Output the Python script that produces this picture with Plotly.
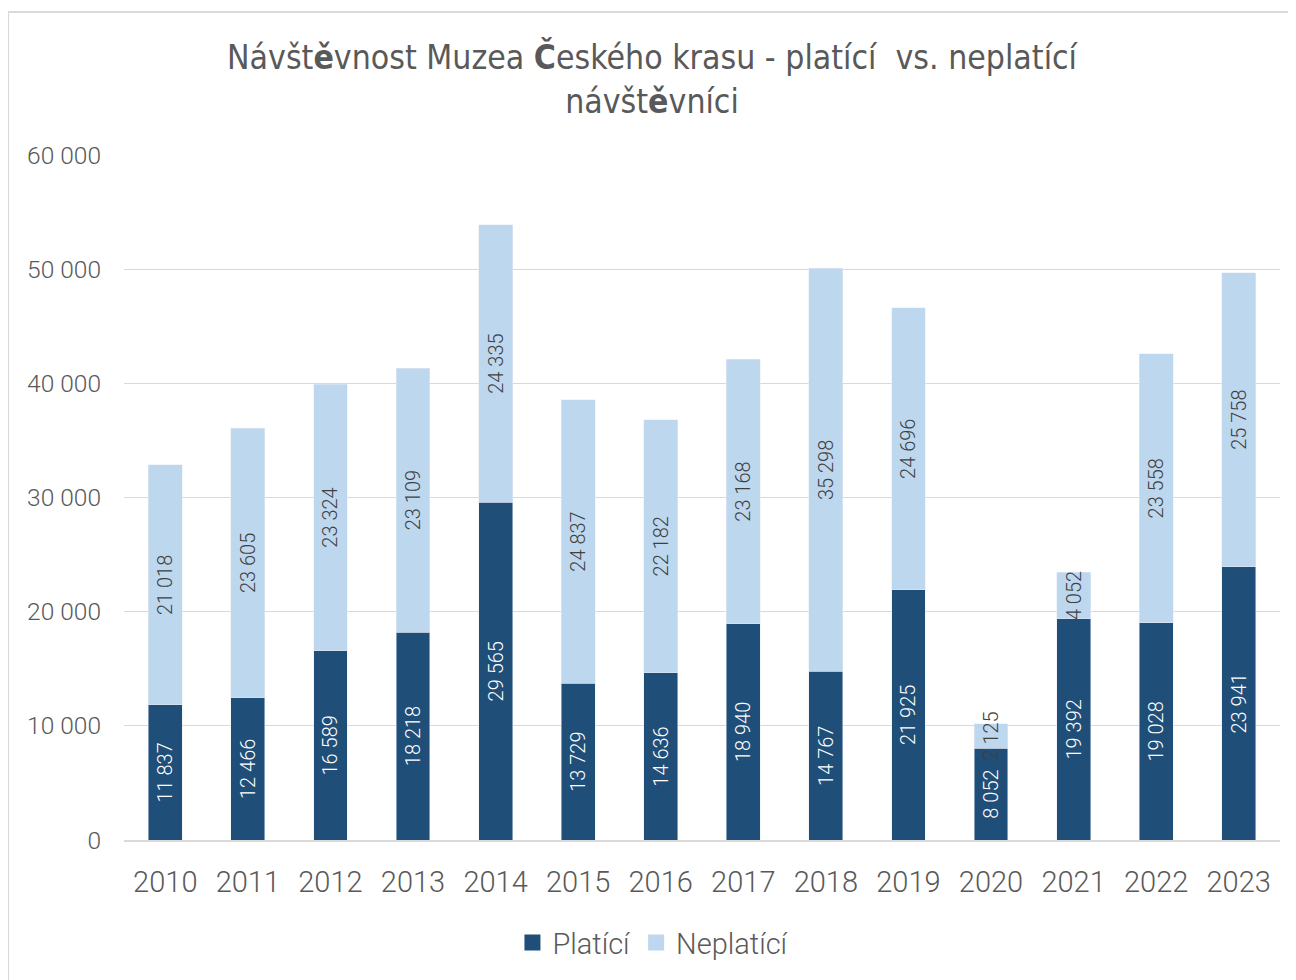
import plotly.graph_objects as go

years = ["2010", "2011", "2012", "2013", "2014", "2015", "2016", "2017",
         "2018", "2019", "2020", "2021", "2022", "2023"]
platici = [11837, 12466, 16589, 18218, 29565, 13729, 14636, 18940,
           14767, 21925, 8052, 19392, 19028, 23941]
neplatici = [21018, 23605, 23324, 23109, 24335, 24837, 22182, 23168,
             35298, 24696, 2125, 4052, 23558, 25758]
y_ticks = [0, 10000, 20000, 30000, 40000, 50000, 60000]


def fmt(v):
    return f"{v:,}".replace(",", " ")


DARK = "#1F4E79"
LIGHT = "#BDD7EE"
GREY = "#595959"
FONT = "Roboto"

fig = go.Figure()
fig.add_trace(go.Bar(
    x=years, y=platici, name="Platící", marker_color=DARK, showlegend=False,
    text=[fmt(v) for v in platici], textposition="inside", textangle=-90,
    insidetextanchor="middle", constraintext="none",
    insidetextfont=dict(color="white", size=20, family=FONT, weight=300),
))
fig.add_trace(go.Bar(
    x=years, y=neplatici, name="Neplatící", marker_color=LIGHT, showlegend=False,
    text=[fmt(v) for v in neplatici], textposition="inside", textangle=-90,
    insidetextanchor="middle", constraintext="none",
    insidetextfont=dict(color="#404040", size=20, family=FONT, weight=300),
))
# legend entries with square swatches
for name, col in [("Platící", DARK), ("Neplatící", LIGHT)]:
    fig.add_trace(go.Scatter(
        x=[None], y=[None], mode="markers", name=name,
        marker=dict(symbol="square", size=16, color=col),
    ))

fig.update_layout(
    barmode="stack",
    bargap=0.59,
    width=1288, height=972,
    margin=dict(l=116, r=16, t=147, b=140),
    paper_bgcolor="white", plot_bgcolor="white",
    font=dict(family=FONT, color=GREY),
    uniformtext=dict(minsize=20, mode="show"),
    title=dict(
        text="Návšt<b>ě</b>vnost Muzea <b>Č</b>eského krasu - platící  vs. neplatící<br>návšt<b>ě</b>vníci",
        x=0.5, xanchor="center", y=0.9372, yanchor="middle",
        font=dict(family="DejaVu Sans Condensed, Roboto", size=33.5, color=GREY),
    ),
    xaxis=dict(
        type="category", tickfont=dict(size=29, color=GREY, weight=300),
        showline=True, linecolor="#D9D9D9", linewidth=2, ticks="",
        showgrid=False, ticklabelstandoff=15,
    ),
    yaxis=dict(
        range=[0, 60000], tickvals=y_ticks, ticktext=[fmt(v) for v in y_ticks],
        tickfont=dict(size=24.5, color=GREY, weight=300), showgrid=True,
        gridcolor="#D9D9D9", gridwidth=1, zeroline=False, ticks="",
        ticklabelstandoff=22,
    ),
    legend=dict(
        orientation="h", x=0.458, xanchor="center", y=-0.15, yanchor="middle",
        font=dict(size=29, color=GREY, weight=300), traceorder="normal",
        itemsizing="trace", itemwidth=30,
    ),
    shapes=[dict(type="rect", xref="paper", yref="paper",
                 x0=-0.1003, x1=1.2, y0=-0.4, y1=1.2088,
                 line=dict(color="#D9D9D9", width=2), layer="below")],
)

fig.write_html("out.html")
